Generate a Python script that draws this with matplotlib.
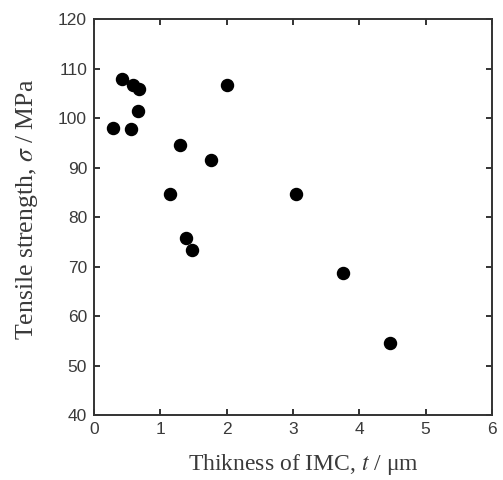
import matplotlib
matplotlib.use("Agg")
import matplotlib.pyplot as plt

plt.rcParams['mathtext.fontset'] = 'stix'

# IMC thickness (um) vs tensile strength (MPa)
thickness = [0.29, 0.42, 0.55, 0.59, 0.68, 0.67, 1.14, 1.29, 1.77, 2.01,
             1.38, 1.47, 3.05, 3.76, 4.46]
strength = [98.0, 107.9, 97.9, 106.7, 105.9, 101.4, 84.6, 94.5, 91.5, 106.7,
            75.7, 73.4, 84.6, 68.8, 54.5]

xticks = [0, 1, 2, 3, 4, 5, 6]
yticks = [40, 50, 60, 70, 80, 90, 100, 110, 120]

txt = '#3a3a3a'

fig = plt.figure(figsize=(5.03, 4.80), dpi=100)
ax = fig.add_axes([0.187, 0.135, 0.791, 0.825])

ax.scatter(thickness, strength, s=75, color='black', zorder=3)

ax.set_xlim(0, 6)
ax.set_ylim(40, 120)
ax.set_xticks(xticks)
ax.set_yticks(yticks)

for sp in ax.spines.values():
    sp.set_color('#333333')
    sp.set_linewidth(1.4)

ax.tick_params(direction='in', length=4, width=1.4, color='#333333',
               top=True, right=True, labelsize=12.5, labelcolor=txt, pad=5)
for lab in ax.get_xticklabels() + ax.get_yticklabels():
    lab.set_family('Liberation Sans')

ax.set_xlabel('Thikness of IMC, $t$ / \u03bcm', family='Liberation Serif',
              fontsize=17, color=txt)
ax.set_ylabel('Tensile strength, $\\sigma$ / MPa', family='Liberation Serif',
              fontsize=18.5, color=txt)
ax.xaxis.set_label_coords(0.525, -0.093)
ax.yaxis.set_label_coords(-0.137, 0.52)

fig.savefig('out.png', dpi=100)
